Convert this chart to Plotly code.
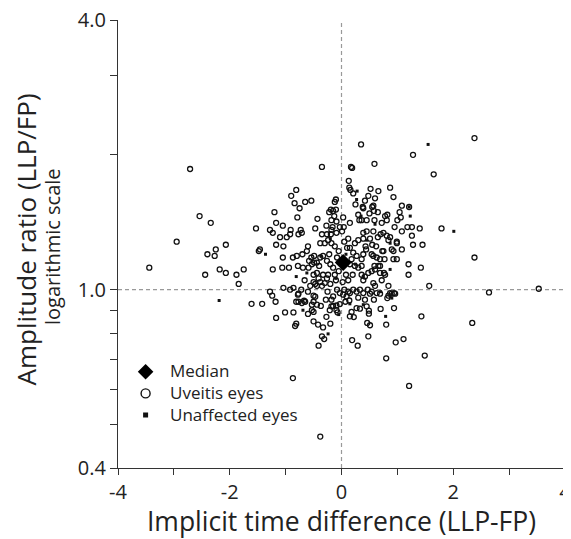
import numpy as np
import plotly.graph_objects as go

# ---- data: uveitis eyes (open circles) ----
uveitis_x = [
    -3.44, -2.95, -2.71, -2.54, -2.34, -2.40, -2.25, -2.27, -2.07, -2.44,
    -2.18, -2.07, -1.88, -1.75, -1.84, -1.53, -1.28, -1.23, -1.17, -1.05,
    -1.10, -0.98, -1.17, -1.04, -1.48, -1.46, -1.23, -1.06, -0.94, -1.05,
    -0.87, -0.80, -0.78, -0.69, -0.59, -0.47, -0.43, -0.92, -0.91, -0.38,
    -0.35, -0.49, -0.54, -0.49, -0.40, -1.04, -0.92, -0.86, -1.28, -0.77,
    -0.35, -0.81, -0.90, -0.84, -0.75, -0.65, -0.54, -0.79, -1.20, -1.61,
    -1.42, -1.24, -1.18, -1.17, -1.01, -0.86, -0.83, -0.81, -0.81, -0.77,
    -0.67, -0.78, -0.60, -0.50, -0.53, -0.50, -0.42, -0.33, -0.31, -0.41,
    -0.87, -0.38, -0.50, -0.47, -0.37, -0.21, -0.15, -0.09, -0.07, -0.50,
    -0.53, -0.44, -0.35,
    1.57, 2.64, 3.53, 2.34, 1.43, 1.49, 1.21, 1.11, 0.97, 0.80,
    0.80, 0.94, 0.70, 0.48, 0.51, 0.46, 0.19, 0.29, 0.49, 0.49,
    0.45, 0.33, 0.27, 0.22, 0.15, 0.18, 0.07, 0.14, -0.09, -0.03,
    -0.18, 0.87, 0.94, 0.84, 0.82, 0.69,
    0.35, 2.38, 1.28, 1.65, 0.59, 0.19, 0.17, 0.13, 0.14, 0.16,
    0.21, 0.52, 0.42, 0.60, 0.87, 0.93, 0.55, 0.57, 0.39, 0.58,
    0.50, 0.65, 0.59, 0.45, 0.36, 0.32, 0.78, 0.81, 0.82, 1.08,
    1.04, 1.06, 1.21, 1.18, 1.26, 1.40, 1.08, 1.26, 1.79, 1.28,
    1.45, 2.38, 0.99, 1.08, 0.90, 0.93, 1.20, 1.20, 1.42, 0.99,
    0.93, 0.73, 0.77, 0.69, 0.59, 0.78, 0.76, 0.84, 0.90, 0.96,
    -0.12, -0.10, -0.10, -0.19, 0.38, 0.15, 0.03, 0.04, -0.03, 0.01,
    -0.15, -0.13, -0.18, -0.09, -0.16, -0.18, -0.09, -0.19, 0.39, 0.45,
    0.51, 0.39, 0.30, 0.24, 0.57, 0.65, 0.70, 0.75, 0.81, 0.87,
    0.84, 0.99, -0.73, -0.71, -0.77, -0.27, -0.26, -0.24, -0.30, -0.22,
    -0.60,
    -0.53, -0.44, -0.38, -0.33, -0.26, -0.50, -0.44, -0.41, -0.38, -0.50,
    -0.47, -0.56, -0.44, -0.35, -0.30, -0.26, -0.24, -0.33, -0.71, -0.65,
    0.57, 0.60, 0.63, 0.54, 0.51, 0.39, 0.33, 0.27, 0.21, 0.15,
    0.12, 0.39, 0.42, 0.36, 0.48, 0.54, 0.60, 0.57, 0.54, 0.63,
    0.69, 0.75, 0.66, 0.69, 0.39, 0.36, 0.27, 0.21, 0.18, 0.15,
    0.24, 0.30, 0.36, 0.09, 0.03, -0.03, -0.15, -0.18,
    -0.12, -0.05, 0.05, 0.10, -0.08, -0.15, -0.05, 0.08, -0.10, 0.02,
    0.12, -0.20, -0.08, 0.05, -0.22, 0.12, -0.18, 0.20, -0.12, 0.15,
    0.06, -0.20,
    0.25, 0.48, 0.66, 0.30, 0.72, 0.95, 1.00, 0.43, 0.55,
    -0.70, -0.62, -0.58, -0.66, -0.72, -0.60, -0.28, -0.25, -0.27, -0.20,
    0.44, 0.62, 0.72, 0.47, 0.30, 0.58, 0.42,
]
uveitis_y = [
    1.12, 1.28, 1.86, 1.46, 1.41, 1.20, 1.23, 1.19, 1.26, 1.08,
    1.11, 1.09, 1.08, 1.11, 1.03, 1.37, 1.36, 1.34, 1.41, 1.39,
    1.31, 1.31, 1.26, 1.25, 1.22, 1.23, 1.11, 1.12, 1.12, 1.18,
    1.18, 1.19, 1.13, 1.12, 1.12, 1.37, 1.44, 1.33, 1.36, 1.27,
    1.33, 1.19, 1.18, 1.15, 1.13, 1.01, 1.00, 1.01, 0.99, 0.98,
    1.88, 1.67, 1.62, 1.56, 1.52, 1.57, 1.58, 1.45, 1.49, 0.93,
    0.93, 0.97, 0.94, 0.865, 0.89, 0.89, 0.83, 0.84, 0.94, 0.94,
    0.945, 0.975, 0.883, 0.892, 0.90, 0.85, 0.836, 0.824, 0.776, 0.75,
    0.635, 0.47, 0.97, 0.965, 0.92, 0.90, 0.92, 0.922, 0.89, 0.94,
    0.926, 0.926, 0.787,
    1.02, 0.986, 1.005, 0.843, 0.872, 0.713, 0.61, 0.776, 0.763, 0.703,
    0.836, 0.91, 0.906, 0.787, 0.833, 0.843, 0.772, 0.75, 0.884, 0.898,
    0.918, 0.907, 0.91, 0.869, 0.872, 0.892, 0.94, 0.946, 0.90, 0.929,
    0.918, 0.983, 0.983, 0.97, 0.958, 0.98,
    2.11, 2.18, 2.00, 1.81, 1.91, 1.87, 1.88, 1.75, 1.69, 1.67,
    1.64, 1.68, 1.58, 1.60, 1.69, 1.61, 1.53, 1.54, 1.52, 1.50,
    1.48, 1.49, 1.43, 1.43, 1.43, 1.43, 1.46, 1.43, 1.47, 1.54,
    1.49, 1.45, 1.53, 1.38, 1.38, 1.37, 1.35, 1.32, 1.37, 1.26,
    1.26, 1.18, 1.27, 1.23, 1.23, 1.22, 1.14, 1.08, 1.12, 1.17,
    1.17, 1.22, 1.17, 1.13, 1.13, 1.08, 1.09, 1.02, 0.98, 0.98,
    1.57, 1.59, 1.51, 1.51, 1.53, 1.41, 1.45, 1.38, 1.38, 1.35,
    1.50, 1.46, 1.43, 1.42, 1.38, 1.36, 1.34, 1.33, 1.34, 1.35,
    1.30, 1.30, 1.29, 1.27, 1.35, 1.31, 1.33, 1.34, 1.32, 1.31,
    1.29, 1.28, 1.36, 1.34, 1.33, 1.39, 1.33, 1.29, 1.27, 1.49,
    1.25,
    1.14, 1.15, 1.18, 1.19, 1.16, 1.08, 1.09, 1.06, 1.04, 1.04,
    1.03, 1.02, 1.02, 1.02, 1.035, 1.06, 1.08, 1.08, 0.934, 0.94,
    1.035, 1.02, 0.983, 0.99, 0.98, 0.983, 1.00, 0.99, 1.00, 0.983,
    0.99, 1.05, 1.07, 1.08, 1.09, 1.10, 1.11, 1.19, 1.20, 1.18,
    1.17, 1.22, 1.13, 1.09, 1.20, 1.17, 1.19, 1.21, 1.17, 1.14,
    1.13, 1.12, 1.13, 0.966, 0.975, 0.983, 0.966, 0.95,
    1.25, 1.22, 1.28, 1.24, 1.18, 1.12, 1.10, 1.08, 1.05, 1.04,
    1.05, 1.03, 1.00, 1.00, 1.20, 1.30, 1.27, 1.08, 1.08, 1.24,
    1.16, 1.14,
    1.55, 1.62, 1.66, 1.47, 1.41, 1.38, 1.43, 1.25, 1.26,
    1.20, 1.22, 1.16, 1.05, 1.00, 0.99, 0.95, 0.99, 0.87, 0.84,
    1.23, 1.25, 1.05, 1.00, 0.96, 0.95, 0.95,
]

# ---- data: unaffected eyes (small filled squares) ----
unaffected_x = [1.55, 0.28, 0.27, 1.23, 1.21, 2.01, -1.36, -0.81, -2.19, -0.69,
                -0.24, 0.79, 0.90, 0.87, 0.39, 0.87, 0.39, -0.62, -0.37, 0.25,
                -0.10, 0.08, 0.45, -0.05, 0.60, -0.20, 0.35, 0.70, 0.15]
unaffected_y = [2.11, 1.66, 1.59, 1.46, 1.53, 1.35, 1.20, 1.07, 0.946, 0.90,
                0.797, 0.872, 0.958, 1.11, 1.07, 1.27, 0.926, 1.09, 1.19, 1.14,
                1.06, 1.20, 1.29, 0.88, 1.40, 1.30, 1.46, 0.99, 0.93]

# ---- data: median ----
median_x = [0.03]
median_y = [1.15]

# axis settings
x_range = [-4, 4]
y_range = [0.4, 4.0]
x_ticks = [-4, -3, -2, -1, 0, 1, 2, 3, 4]
x_ticktext = ["-4", "", "-2", "", "0", "", "2", "", "4"]
y_ticks = [0.4, 0.5, 0.6, 0.7, 0.8, 0.9, 1.0, 2.0, 3.0, 4.0]
y_ticktext = ["0.4", "", "", "", "", "", "1.0", "", "", "4.0"]
ref_x = 0.0
ref_y = 1.0

FONT = "Open Sans, Noto Sans, sans-serif"
INK = "#222222"
DASH = dict(color="#999999", width=1.2, dash="4px,3px")

fig = go.Figure()

# dashed reference lines (x = 0 and ratio = 1)
fig.add_trace(go.Scatter(x=[ref_x, ref_x], y=y_range, mode="lines", line=DASH,
                         showlegend=False, hoverinfo="skip", cliponaxis=False))
fig.add_trace(go.Scatter(x=x_range, y=[ref_y, ref_y], mode="lines", line=DASH,
                         showlegend=False, hoverinfo="skip", cliponaxis=False))

fig.add_trace(go.Scatter(
    x=uveitis_x, y=uveitis_y, mode="markers", showlegend=False,
    marker=dict(symbol="circle-open", size=5, color="#111111",
                line=dict(width=1.3, color="#111111")),
))
fig.add_trace(go.Scatter(
    x=unaffected_x, y=unaffected_y, mode="markers", showlegend=False,
    marker=dict(symbol="square", size=3, color="#111111", line=dict(width=0)),
))
fig.add_trace(go.Scatter(
    x=median_x, y=median_y, mode="markers", showlegend=False,
    marker=dict(symbol="diamond", size=13, color="#000000", line=dict(width=0)),
))

# legend entries (dummy traces so legend symbols can have their own sizes)
LEG = "<span style='font-size:17px'>\u00a0%s</span>"
fig.add_trace(go.Scatter(
    x=[None], y=[None], mode="markers", name=LEG % "Median",
    marker=dict(symbol="diamond", size=12, color="#000000", line=dict(width=0)),
))
fig.add_trace(go.Scatter(
    x=[None], y=[None], mode="markers", name=LEG % "Uveitis eyes",
    marker=dict(symbol="circle-open", size=9, color="#111111",
                line=dict(width=1.4, color="#111111")),
))
fig.add_trace(go.Scatter(
    x=[None], y=[None], mode="markers", name=LEG % "Unaffected eyes",
    marker=dict(symbol="square", size=5, color="#111111", line=dict(width=0)),
))

fig.update_layout(
    width=571, height=531,
    margin=dict(l=110, r=14, t=12, b=71, autoexpand=False),
    paper_bgcolor="white", plot_bgcolor="white",
    font=dict(family=FONT, color=INK),
    showlegend=True,
    legend=dict(x=0.017, y=0.25, xanchor="left", yanchor="top",
                bgcolor="rgba(0,0,0,0)", font=dict(size=14.3, family=FONT, color=INK),
                itemwidth=30, tracegroupgap=0),
    xaxis=dict(
        range=x_range, tickvals=x_ticks, ticktext=x_ticktext,
        ticks="outside", ticklen=6, tickwidth=1.3, tickcolor="#333333",
        showline=True, linecolor="#333333", linewidth=1.3,
        showgrid=False, zeroline=False, ticklabeloverflow="allow", automargin=False,
        tickfont=dict(size=20, family=FONT, color=INK),
        title=dict(text="Implicit time difference (LLP-FP)",
                   font=dict(size=26.5, family=FONT, color=INK), standoff=6),
    ),
    yaxis=dict(
        type="log", range=[np.log10(y_range[0]), np.log10(y_range[1])],
        tickvals=y_ticks, ticktext=y_ticktext,
        ticks="outside", ticklen=7, tickwidth=1.3, tickcolor="#333333",
        showline=True, linecolor="#333333", linewidth=1.3,
        showgrid=False, zeroline=False, ticklabeloverflow="allow", automargin=False,
        tickfont=dict(size=20, family=FONT, color=INK),
    ),
    annotations=[
        dict(text="Amplitude ratio (LLP/FP)", xref="paper", yref="paper",
             x=-0.206, y=0.51, xanchor="center", yanchor="middle", textangle=-90,
             showarrow=False, font=dict(size=26, family=FONT, color=INK)),
        dict(text="logarithmic scale", xref="paper", yref="paper",
             x=-0.146, y=0.495, xanchor="center", yanchor="middle", textangle=-90,
             showarrow=False, font=dict(size=20, family=FONT, color=INK)),
    ],
)

fig.write_html("out.html")
